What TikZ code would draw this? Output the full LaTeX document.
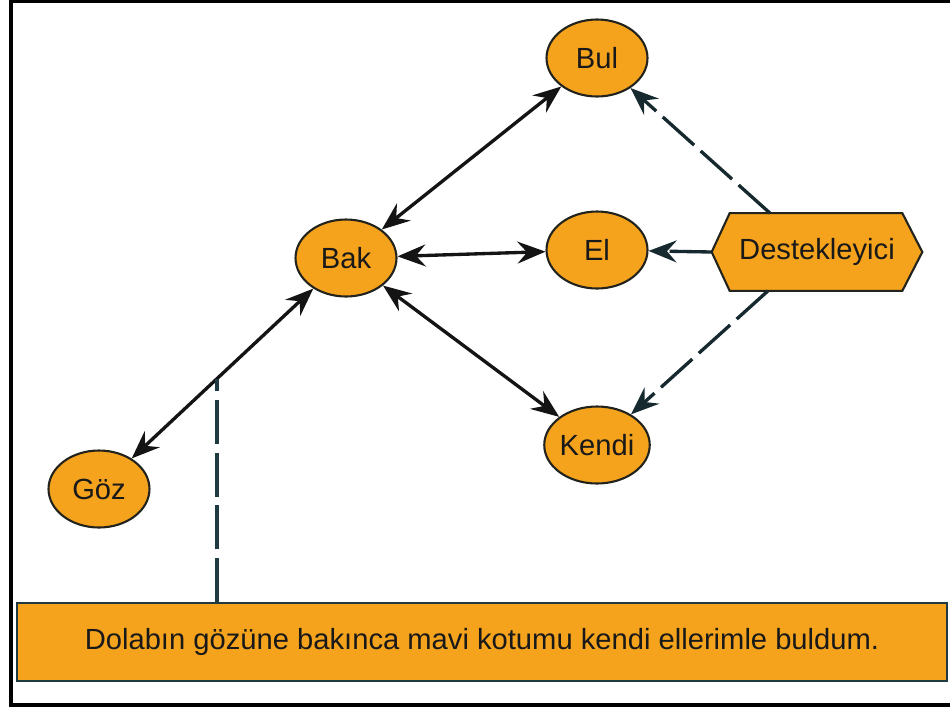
\documentclass[tikz,border=0pt]{standalone}
\usepackage{fontspec}
\setmainfont{Liberation Sans}
\usetikzlibrary{arrows.meta,calc,shapes.geometric}
\definecolor{orangefill}{RGB}{245,163,28}
\definecolor{darkedge}{RGB}{35,35,30}
\definecolor{tealedge}{RGB}{32,58,66}
\begin{document}
\begin{tikzpicture}[x=0.02cm,y=-0.02cm,
  >={Stealth[length=16pt,width=12.5pt,inset=5.5pt]},
  every node/.style={font=\fontsize{16.6}{20}\selectfont, text=black!90},
  oval/.style={ellipse, draw=darkedge, line width=1.2pt, fill=orangefill,
    minimum width=2.02cm, minimum height=1.54cm, inner sep=0pt},
  biarrow/.style={<->, line width=1.9pt, draw=black!92},
  dasharrow/.style={->, line width=1.9pt,
    draw=tealedge!70!black, dash pattern=on 24pt off 5pt},
  vline/.style={line width=1.8pt, draw=tealedge, dash pattern=on 25pt off 5pt},
  hexbox/.style={rectangle, draw=none, minimum width=4.2cm, minimum height=1.54cm, inner sep=0pt},
  notebox/.style={rectangle, draw=tealedge, line width=1.2pt, fill=orangefill,
    minimum width=18.6cm, minimum height=1.56cm, inner sep=0pt}
]
\useasboundingbox (0,0) rectangle (950,708);
\draw[line width=1.8pt] (950,1) -- (11,1) -- (11,705) -- (950,705);

\node[oval] (bul) at (597,58) {Bul};
\node[oval] (bak) at (346,258) {Bak};
\node[oval] (el) at (597,250) {El};
\node[oval] (kendi) at (597,445) {Kendi};
\node[oval] (goz) at (99,489) {Göz};

\node[hexbox] (dest) at (817,252) {};
\filldraw[fill=orangefill, draw=darkedge, line width=1.2pt]
  (dest.west) -- ($(dest.north west)+(18,0)$) -- ($(dest.north east)+(-20,0)$)
  -- (dest.east) -- ($(dest.south east)+(-20,0)$) -- ($(dest.south west)+(18,0)$) -- cycle;
\node (destlbl) at (dest.center) {Destekleyici};

\node[notebox] (note) at (482,642) {Dolabın gözüne bakınca mavi kotumu kendi ellerimle buldum.};

\draw[biarrow] (bak) -- (bul);
\draw[biarrow] (bak) -- (el);
\draw[biarrow] (bak) -- (kendi);
\draw[biarrow] (bak) -- (goz);

\draw[dasharrow] ($(dest.north)+(-47,0)$) -- (bul);
\draw[dasharrow] (dest.west) -- (el);
\draw[dasharrow] ($(dest.south)+(-49,0)$) -- (kendi);

\coordinate (gb) at ($(goz)!0.478!(bak)$);
\draw[vline] (note.north -| gb) -- (gb);
\end{tikzpicture}
\end{document}
